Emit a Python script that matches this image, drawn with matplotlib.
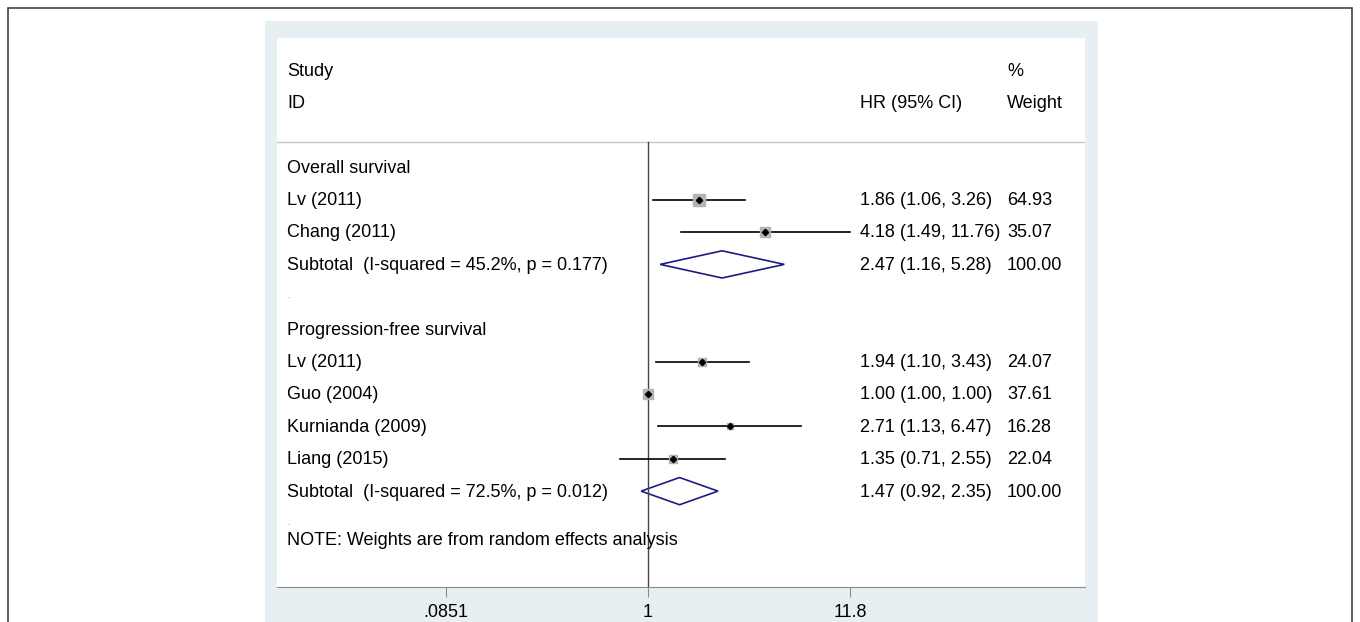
import numpy as np
import matplotlib.pyplot as plt
from matplotlib.patches import Polygon, Rectangle
import matplotlib.transforms as mtransforms

plt.rcParams['font.family'] = ['Liberation Sans', 'DejaVu Sans']

# data
groups = ["Overall survival", "Progression-free survival"]
studies = [["Lv (2011)", "Chang (2011)"],
           ["Lv (2011)", "Guo (2004)", "Kurnianda (2009)", "Liang (2015)"]]
hr = [[1.86, 4.18], [1.94, 1.00, 2.71, 1.35]]
ci_lo = [[1.06, 1.49], [1.10, 1.00, 1.13, 0.71]]
ci_hi = [[3.26, 11.76], [3.43, 1.00, 6.47, 2.55]]
weights = [[64.93, 35.07], [24.07, 37.61, 16.28, 22.04]]
sub_label = ["Subtotal  (I-squared = 45.2%, p = 0.177)",
             "Subtotal  (I-squared = 72.5%, p = 0.012)"]
sub_hr = [2.47, 1.47]
sub_lo = [1.16, 0.92]
sub_hi = [5.28, 2.35]
xticks = [0.0851, 1, 11.8]
xtick_labels = [".0851", "1", "11.8"]

fig = plt.figure(figsize=(13.6, 6.22), dpi=100)
W, H = 1360, 622

# outer frame and grey-blue panel (pixel coords -> figure fraction)
fig.patches.append(Rectangle((8 / W, -0.1), 1344 / W, 1.1 - 8 / H, transform=fig.transFigure,
                             fill=False, edgecolor='#444444', lw=1.2, zorder=-5))
fig.patches.append(Rectangle((265 / W, -0.1), 833 / W, 1.1 - 21 / H, transform=fig.transFigure,
                             facecolor='#e8eff2', edgecolor='none', zorder=-5))

ax = fig.add_axes([277 / W, 1 - 587 / H, 808 / W, 549 / H])
ax.set_facecolor('white')
ax.set_xscale('log')
ax.set_xlim(0.01078, 207.6)
ax.set_ylim(15.96, -0.99)

fs = 13
for s in ['top', 'right', 'left']:
    ax.spines[s].set_visible(False)
ax.spines['bottom'].set_color('#8c8c8c')
ax.set_yticks([])
ax.set_xticks(xticks)
ax.set_xticklabels(xtick_labels, fontsize=fs)
ax.xaxis.set_minor_locator(plt.NullLocator())
ax.tick_params(axis='x', length=7, color='#8c8c8c', pad=5)

tr = mtransforms.blended_transform_factory(ax.transAxes, ax.transData)
x_lab, x_hr, x_w = 10 / 808, 583 / 808, 730 / 808
dy = 0.03  # small downward nudge of text

# header
ax.text(x_lab, 0 + dy, "Study", transform=tr, va='center', fontsize=fs)
ax.text(x_lab, 1 + dy, "ID", transform=tr, va='center', fontsize=fs)
ax.text(x_hr, 1 + dy, "HR (95% CI)", transform=tr, va='center', fontsize=fs)
ax.text(x_w, 0 + dy, "%", transform=tr, va='center', fontsize=fs)
ax.text(x_w, 1 + dy, "Weight", transform=tr, va='center', fontsize=fs)
ax.axhline(2.22, color='#c8c8c8', lw=1)
ax.plot([1, 1], [2.22, 15.96], color='#444444', lw=1)

row = 3
for g in range(len(groups)):
    ax.text(x_lab, row + dy, groups[g], transform=tr, va='center', fontsize=fs)
    row += 1
    for i in range(len(studies[g])):
        ax.text(x_lab, row + dy, studies[g][i], transform=tr, va='center', fontsize=fs)
        ax.plot([ci_lo[g][i], ci_hi[g][i]], [row, row], color='black', lw=1.2)
        ax.plot(hr[g][i], row, marker='s', ms=1.1 * np.sqrt(weights[g][i]),
                color='#b4b4b4', mec='#b4b4b4', ls='none')
        ax.plot(hr[g][i], row, marker='D', ms=3.2, color='black', ls='none')
        ax.text(x_hr, row + dy, "%.2f (%.2f, %.2f)" % (hr[g][i], ci_lo[g][i], ci_hi[g][i]),
                transform=tr, va='center', fontsize=fs)
        ax.text(x_w, row + dy, "%.2f" % weights[g][i], transform=tr, va='center', fontsize=fs)
        row += 1
    ax.text(x_lab, row + dy, sub_label[g], transform=tr, va='center', fontsize=fs)
    d = 0.42
    ax.add_patch(Polygon([(sub_lo[g], row), (sub_hr[g], row - d), (sub_hi[g], row),
                          (sub_hr[g], row + d)], closed=True, fill=False,
                         edgecolor='#1c1c80', lw=1.2))
    ax.text(x_hr, row + dy, "%.2f (%.2f, %.2f)" % (sub_hr[g], sub_lo[g], sub_hi[g]),
            transform=tr, va='center', fontsize=fs)
    ax.text(x_w, row + dy, "100.00", transform=tr, va='center', fontsize=fs)
    ax.text(x_lab, row + 1, ".", transform=tr, va='center', fontsize=6, color='#888888')
    row += 2

ax.text(x_lab, 14.5 + dy, "NOTE: Weights are from random effects analysis", transform=tr,
        va='center', fontsize=fs)

fig.savefig("out.png", dpi=100)
